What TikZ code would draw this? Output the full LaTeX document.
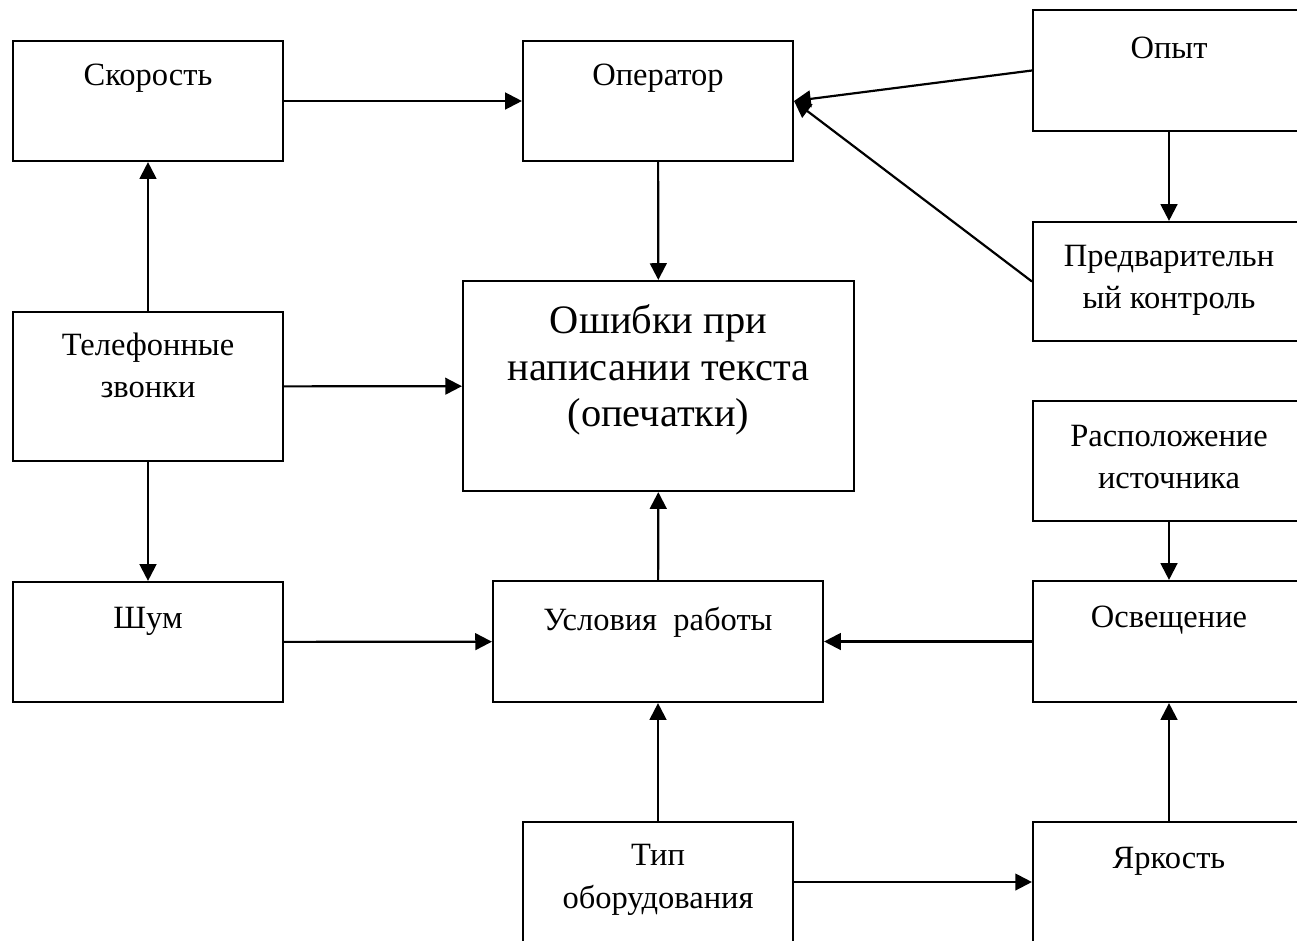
\documentclass[tikz,border=0pt]{standalone}
\usepackage{fontspec}
\setmainfont{Liberation Serif}
\usepackage{tikz}
\usetikzlibrary{arrows.meta,positioning}

\begin{document}
\begin{tikzpicture}
          [x=0.02cm,y=-0.02cm,line width=1.25pt,
           >={Triangle[length=9.5pt,width=9.5pt]}]
          \tikzset{
            box/.style={draw=black,inner sep=0pt,minimum width=5.4cm,minimum height=2.4cm},
            txt/.style={anchor=center,align=center,inner sep=0pt,font=\fontsize{18.5}{24}\selectfont},
            bigtxt/.style={txt,font=\fontsize{23}{26.5}\selectfont}
          }
          \path[use as bounding box] (0,0) rectangle (1297,940);
          \clip (0,0) rectangle (1297,940);

          % left column
          \node[box,label={[txt,yshift=-0.77cm]north:Скорость}] (speed) at (148,101) {};
          \node[box,minimum height=2.98cm,label={[txt,yshift=-1.09cm]north:Телефонные\\звонки}] (phone) at (148,386.5) {};
          \node[box,label={[txt,yshift=-0.8cm]north:Шум}] (noise) at (148,642) {};

          % middle column
          \node[box,label={[txt,yshift=-0.77cm]north:Оператор}] (operator) at (658,101) {};
          \node[box,minimum width=7.82cm,minimum height=4.2cm,
                label={[bigtxt,yshift=-1.8cm]north:Ошибки при\\написании текста\\(опечатки)}] (errors) at (658.5,386) {};
          \node[box,minimum width=6.6cm,minimum height=2.42cm,
                label={[txt,yshift=-0.84cm]north:Условия~ работы}] (cond) at (658,641.5) {};
          \node[box,label={[txt,yshift=-1.18cm]north:Тип\\оборудования}] (equip) at (658,882) {};

          % right column
          \node[box,minimum width=5.44cm,minimum height=2.42cm,label={[txt,yshift=-0.78cm]north:Опыт}] (exper) at (1169,70.5) {};
          \node[box,minimum width=5.44cm,minimum height=2.38cm,label={[txt,yshift=-1.18cm]north:Предварительн\\ый контроль}] (precheck) at (1169,281.5) {};
          \node[box,minimum width=5.44cm,label={[txt,yshift=-1.14cm]north:Расположение\\источника}] (place) at (1169,461) {};
          \node[box,minimum width=5.44cm,minimum height=2.42cm,label={[txt,yshift=-0.81cm]north:Освещение}] (light) at (1169,641.5) {};
          \node[box,minimum width=5.44cm,label={[txt,yshift=-0.8cm]north:Яркость}] (bright) at (1169,882) {};

          \path[->]
          (speed) edge (operator)
          (exper.west) edge (operator.east)
          (precheck.west) edge (operator.east)
          (exper) edge (precheck)
          (operator) edge (errors)
          (phone) edge (speed)
          (phone) edge (errors)
          (phone) edge (noise)
          (noise) edge (cond)
          (light) edge (cond)
          (place) edge (light)
          (cond) edge (errors)
          (equip) edge (cond)
          (equip) edge (bright)
          (bright) edge (light)
          ;
\end{tikzpicture}
\end{document}
